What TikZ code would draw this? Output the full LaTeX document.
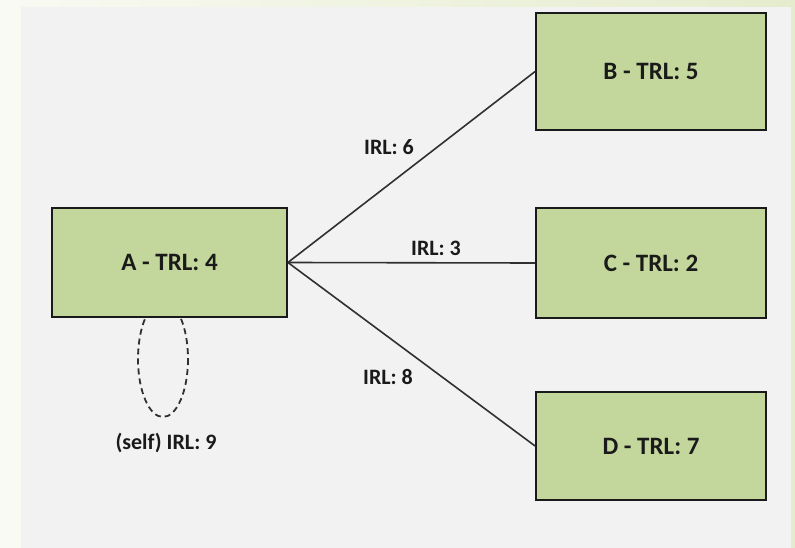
\documentclass[tikz,border=0pt]{standalone}
\usepackage{fontspec}
\setmainfont{Carlito}
\usetikzlibrary{shapes.geometric}
\definecolor{boxfill}{HTML}{C3D69B}
\definecolor{panel}{HTML}{F2F2F2}
\definecolor{bgleft}{HTML}{F9FAF3}
\definecolor{bgright}{HTML}{E5ECCD}
\definecolor{ink}{HTML}{1A1A1A}
\definecolor{linec}{HTML}{303030}
\begin{document}
\begin{tikzpicture}[x=1pt,y=-1pt,
  trlbox/.style={draw=ink, line width=1.8pt, fill=boxfill, inner sep=0pt,
    font=\fontsize{25}{28}\selectfont\bfseries, text=ink},
  conn/.style={draw=linec, line width=1.6pt},
  lbl/.style={font=\fontsize{22}{26}\selectfont\bfseries, text=ink, inner sep=0pt}]
\useasboundingbox (0,0) rectangle (795,548);
\shade[left color=bgleft, right color=bgright] (0,0) rectangle (795,548);
\fill[panel] (21,7) rectangle (791,548);
% self loop (behind box A)
\draw[draw=linec, line width=1.8pt, dash pattern=on 6pt off 4pt] (163,359) ellipse [x radius=25, y radius=58];
\node[trlbox, minimum width=235pt, minimum height=109pt] (A) at (169.5,262.5) {A - TRL: 4};
\node[trlbox, minimum width=230pt, minimum height=117pt] (B) at (651,71.5) {B - TRL: 5};
\node[trlbox, minimum width=230pt, minimum height=110pt] (C) at (651,263) {C - TRL: 2};
\node[trlbox, minimum width=230pt, minimum height=108pt] (D) at (651,446) {D - TRL: 7};
\draw[conn] (A.east) -- (B.west);
\draw[conn] (A.east) -- (C.west);
\draw[conn] (A.east) -- (D.west);
\node[lbl] (l6) at (389,147) {IRL: 6};
\node[lbl] (l3) at (436,248) {IRL: 3};
\node[lbl] (l8) at (388,377) {IRL: 8};
\node[lbl] (l9) at (166,443) {(self) IRL: 9};
\end{tikzpicture}
\end{document}
